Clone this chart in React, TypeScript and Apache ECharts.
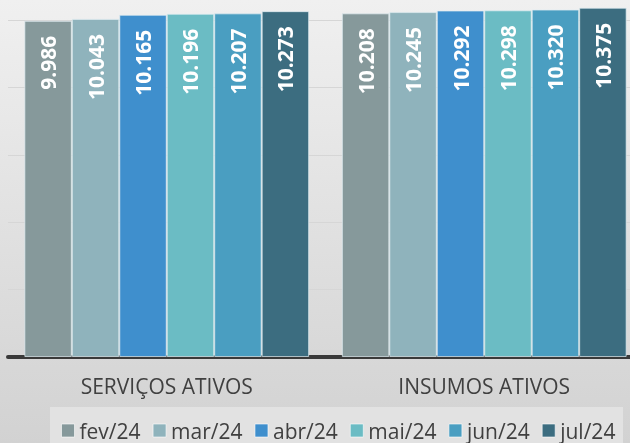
import React, { useEffect, useRef } from "react";
import * as echarts from "echarts";

const categories = ["SERVIÇOS ATIVOS", "INSUMOS ATIVOS"];
const months = ["fev/24", "mar/24", "abr/24", "mai/24", "jun/24", "jul/24"];
const fev24 = [9986, 10208];
const mar24 = [10043, 10245];
const abr24 = [10165, 10292];
const mai24 = [10196, 10298];
const jun24 = [10207, 10320];
const jul24 = [10273, 10375];
const seriesValues = [fev24, mar24, abr24, mai24, jun24, jul24];
const colors = ["#86999b", "#8fb3bc", "#3f8fcd", "#6bbcc4", "#4a9ec1", "#3c6d80"];

const OFF = 47; // part of the chart lying above the visible frame

const fmt = (v: number) => {
  const s = String(Math.round(v));
  return s.replace(/\B(?=(\d{3})+(?!\d))/g, ".");
};

export default function App() {
  const ref = useRef<HTMLDivElement>(null);
  useEffect(() => {
    if (!ref.current) return;
    const chart = echarts.init(ref.current, undefined, { renderer: "svg" });
    chart.setOption({
      animation: false,
      graphic: [
        {
          type: "rect",
          z: -10,
          silent: true,
          shape: { x: 0, y: OFF, width: 643, height: 443 },
          style: {
            fill: {
              type: "linear",
              x: 0,
              y: 0,
              x2: 0,
              y2: 1,
              colorStops: [
                { offset: 0, color: "#f0f0f0" },
                { offset: 1, color: "#d2d2d2" },
              ],
            },
          },
        },
        {
          type: "rect",
          z: -5,
          silent: true,
          shape: { x: 50, y: 407 + OFF, width: 573, height: 40 },
          style: { fill: "#e2e2e2" },
        },
      ],
      grid: { left: 8, right: 0, top: 0, bottom: 86 },
      legend: {
        data: months,
        left: 61,
        top: 420 + OFF,
        padding: 0,
        itemWidth: 13,
        itemHeight: 13,
        itemGap: 12,
        icon: "rect",
        itemStyle: { borderColor: "rgba(255,255,255,0.6)", borderWidth: 1 },
        textStyle: {
          fontFamily: "Open Sans",
          fontSize: 21,
          color: "#404040",
        },
      },
      xAxis: {
        type: "category",
        data: categories,
        axisLine: { lineStyle: { color: "#3a3a3a", width: 4 } },
        axisTick: { show: false },
        axisLabel: {
          fontFamily: "Open Sans",
          fontSize: 21,
          color: "#404040",
          margin: 18,
        },
      },
      yAxis: {
        type: "value",
        min: 0,
        max: 12000,
        interval: 2000,
        axisLabel: { show: false },
        axisLine: { show: false },
        axisTick: { show: false },
        splitLine: { lineStyle: { color: "#d6d6d6", width: 1 } },
      },
      series: months.map((m, i) => ({
        name: m,
        type: "bar",
        data: seriesValues[i],
        barGap: "0%",
        barCategoryGap: "10.3%",
        itemStyle: {
          color: colors[i],
          borderColor: "rgba(225,238,242,0.7)",
          borderWidth: 1,
        },
        label: {
          show: true,
          position: "insideTop",
          rotate: 90,
          align: "right",
          verticalAlign: "middle",
          distance: 15,
          color: "#ffffff",
          fontFamily: "Open Sans",
          fontWeight: "bold",
          fontSize: 21,
          formatter: (p: any) => fmt(p.value),
        },
      })),
    });
    return () => chart.dispose();
  }, []);
  return (
    <div
      style={{
        position: "fixed",
        left: 0,
        top: 0,
        width: 630,
        height: 443,
        overflow: "hidden",
      }}
    >
      <div
        ref={ref}
        style={{ position: "absolute", left: 0, top: -OFF, width: 643, height: 443 + OFF }}
      />
    </div>
  );
}
